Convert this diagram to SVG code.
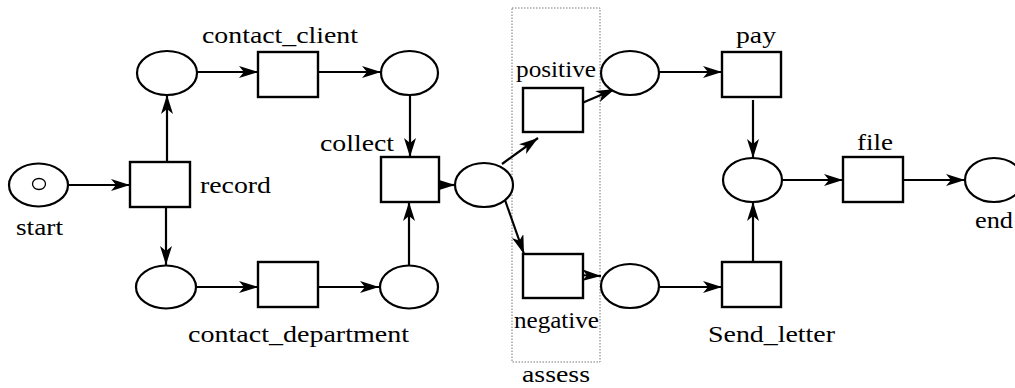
<svg xmlns="http://www.w3.org/2000/svg" width="1015" height="388" viewBox="0 0 1015 388">
<defs>
<marker id="ah" markerUnits="userSpaceOnUse" markerWidth="22" markerHeight="14" refX="19" refY="6" orient="auto">
<path d="M0,0 L19,6 L0,12 L5,6 z" fill="#000"/>
</marker>
</defs>
<style>
.pl{fill:#fff;stroke:#000;stroke-width:2.2}
.tr{fill:#fff;stroke:#000;stroke-width:2.4}
.tk{fill:none;stroke:#000;stroke-width:1.3}
.arc{fill:none;stroke:#000;stroke-width:2.2;marker-end:url(#ah)}
text{font-size:24px;fill:#000}
.grp{fill:none;stroke:#777;stroke-width:1;stroke-dasharray:1.5,1.5}
</style>
<rect width="1015" height="388" fill="#fff"/>
<g id="assess">
<rect class="grp" x="512" y="8" width="88" height="354"/>
<text font-family="Liberation Serif, serif" x="522" y="382" textLength="68" lengthAdjust="spacingAndGlyphs">assess</text>
</g>
<g id="connectors">
<path class="arc" d="M68,185 L130,185"/>
<path class="arc" d="M167,162 L167,95"/>
<path class="arc" d="M166,207 L166,265"/>
<path class="arc" d="M197,72 L258,72"/>
<path class="arc" d="M318,72 L381,72"/>
<path class="arc" d="M410,95 L410,157"/>
<path class="arc" d="M196,287 L258,287"/>
<path class="arc" d="M318,287 L379,287"/>
<path class="arc" d="M409,265 L409,202"/>
<path class="arc" d="M434,185 L455,185"/>
<path class="arc" d="M502,164 L538,138"/>
<path class="arc" d="M505,200 L524,254"/>
<path class="arc" d="M582,103 L615,89"/>
<path class="arc" d="M578,275 L601,276"/>
<path class="arc" d="M659,72 L722,72"/>
<path class="arc" d="M659,287 L722,287"/>
<path class="arc" d="M753,100 L753,158"/>
<path class="arc" d="M753,262 L753,202"/>
<path class="arc" d="M782,180 L843,180"/>
<path class="arc" d="M903,180 L965,180"/>
</g>
<g id="start">
<ellipse class="pl" cx="38.5" cy="185" rx="29.5" ry="21.5"/>
<ellipse class="tk" cx="39" cy="184" rx="6.5" ry="5.5"/>
<text font-family="Liberation Serif, serif" x="16" y="235" textLength="47" lengthAdjust="spacingAndGlyphs">start</text>
</g>
<g id="record">
<rect class="tr" x="130" y="162" width="60" height="45"/>
<text font-family="Liberation Serif, serif" x="200" y="193" textLength="71" lengthAdjust="spacingAndGlyphs">record</text>
</g>
<g id="p_c1"><ellipse class="pl" cx="167" cy="73" rx="30" ry="22"/></g>
<g id="contact_client">
<rect class="tr" x="258" y="52" width="60" height="45"/>
<text font-family="Liberation Serif, serif" x="202" y="43" textLength="156" lengthAdjust="spacingAndGlyphs">contact_client</text>
</g>
<g id="p_c2"><ellipse class="pl" cx="409.5" cy="73" rx="28.5" ry="22"/></g>
<g id="collect">
<rect class="tr" x="381" y="157" width="58" height="45"/>
<text font-family="Liberation Serif, serif" x="320" y="151" textLength="74" lengthAdjust="spacingAndGlyphs">collect</text>
</g>
<g id="p_c5"><ellipse class="pl" cx="484" cy="185" rx="29" ry="22"/></g>
<g id="p_c3"><ellipse class="pl" cx="166" cy="287" rx="30" ry="21.5"/></g>
<g id="contact_department">
<rect class="tr" x="258" y="262" width="60" height="45"/>
<text font-family="Liberation Serif, serif" x="188" y="342" textLength="221" lengthAdjust="spacingAndGlyphs">contact_department</text>
</g>
<g id="p_c4"><ellipse class="pl" cx="409" cy="287" rx="29" ry="21.5"/></g>
<g id="positive">
<rect class="tr" x="523" y="88" width="60" height="44"/>
<text font-family="Liberation Serif, serif" x="516" y="77" textLength="80" lengthAdjust="spacingAndGlyphs">positive</text>
</g>
<g id="negative">
<rect class="tr" x="523" y="254" width="60" height="44"/>
<text font-family="Liberation Serif, serif" x="514" y="328" textLength="85" lengthAdjust="spacingAndGlyphs">negative</text>
</g>
<g id="p_c6"><ellipse class="pl" cx="630" cy="73" rx="29" ry="22"/></g>
<g id="p_c7"><ellipse class="pl" cx="630" cy="286" rx="29" ry="22"/></g>
<g id="pay">
<rect class="tr" x="722" y="52" width="59" height="45"/>
<text font-family="Liberation Serif, serif" x="736" y="43" textLength="40" lengthAdjust="spacingAndGlyphs">pay</text>
</g>
<g id="send_letter">
<rect class="tr" x="722" y="262" width="59" height="45"/>
<text font-family="Liberation Serif, serif" x="708" y="342" textLength="127" lengthAdjust="spacingAndGlyphs">Send_letter</text>
</g>
<g id="p_c8"><ellipse class="pl" cx="752.5" cy="180" rx="29.5" ry="22"/></g>
<g id="file">
<rect class="tr" x="843" y="157" width="60" height="45"/>
<text font-family="Liberation Serif, serif" x="857" y="150" textLength="36" lengthAdjust="spacingAndGlyphs">file</text>
</g>
<g id="end">
<ellipse class="pl" cx="994" cy="180" rx="29" ry="22"/>
<text font-family="Liberation Serif, serif" x="975" y="228" textLength="38" lengthAdjust="spacingAndGlyphs">end</text>
</g>
</svg>
